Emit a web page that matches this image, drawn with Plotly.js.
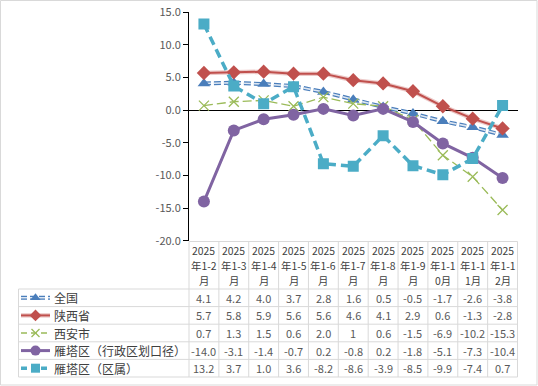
<!DOCTYPE html>
<html>
<head>
<meta charset="utf-8">
<script src="https://cdn.plot.ly/plotly-3.0.1.min.js"></script>
<style>html,body{margin:0;padding:0;background:#fff;}#chart{width:538px;height:386px;}</style>
</head>
<body>
<div id="chart"></div>
<script>
// ---- data ----
const categories = ["2025年1-2月","2025年1-3月","2025年1-4月","2025年1-5月","2025年1-6月","2025年1-7月","2025年1-8月","2025年1-9月","2025年1-10月","2025年1-11月","2025年1-12月"];
const seriesNames = ["全国","陕西省","西安市","雁塔区（行政区划口径）","雁塔区（区属）"];
const quanguo = ["4.1","4.2","4.0","3.7","2.8","1.6","0.5","-0.5","-1.7","-2.6","-3.8"];
const shaanxi = ["5.7","5.8","5.9","5.6","5.6","4.6","4.1","2.9","0.6","-1.3","-2.8"];
const xian = ["0.7","1.3","1.5","0.6","2.0","1","0.6","-1.5","-6.9","-10.2","-15.3"];
const yantaXz = ["-14.0","-3.1","-1.4","-0.7","0.2","-0.8","0.2","-1.8","-5.1","-7.3","-10.4"];
const yantaQs = ["13.2","3.7","1.0","3.6","-8.2","-8.6","-3.9","-8.5","-9.9","-7.4","0.7"];
const yTicks = [-20,-15,-10,-5,0,5,10,15];

// ---- layout geometry (pixels) ----
const W = 538, H = 386;
const plotL = 189, plotR = 517.5, plotT = 12.3, plotB = 240.7;
const colW = (plotR - plotL) / categories.length;
const headTop = 241.5, headBot = 289, rowH = 17.6, tableL = 18.5;
const headLineY = [250, 265.2, 280.4];
const FONT = "Noto Sans CJK SC, sans-serif";

const allSeries = [quanguo, shaanxi, xian, yantaXz, yantaQs];

// style layers per series
function layers(i) {
  switch (i) {
    case 0: return {
      lines: [{color:'#4A7EBB', width:4, dash:'7px,3px'}, {color:'#DCE6F2', width:1.6, dash:'7px,3px'}],
      marker: {symbol:'triangle-up', size:11, color:'#4A7EBB', line:{width:0}}
    };
    case 1: return {
      lines: [{color:'rgba(192,80,77,0.3)', width:4.5}, {color:'#C0504D', width:2}],
      marker: {symbol:'diamond', size:11, color:'#C0504D', line:{width:0}}
    };
    case 2: return {
      lines: [{color:'#9BBB59', width:1.3, dash:'9px,4px'}],
      marker: {symbol:'x-thin', size:10, color:'#9BBB59', line:{width:1.3, color:'#9BBB59'}}
    };
    case 3: return {
      lines: [{color:'#8064A2', width:3}],
      marker: {symbol:'circle', size:12, color:'#8064A2', line:{width:0}}
    };
    case 4: return {
      lines: [{color:'#4BACC6', width:3.5, dash:'9px,5px'}],
      marker: {symbol:'square', size:11, color:'#4BACC6', line:{width:0}}
    };
  }
}

const traces = [];
allSeries.forEach((s, i) => {
  const st = layers(i);
  const y = s.map(Number);
  st.lines.forEach(ln => {
    traces.push({x: categories, y: y, type:'scatter', mode:'lines', line: ln, hoverinfo:'skip', showlegend:false, xaxis:'x', yaxis:'y'});
  });
  traces.push({x: categories, y: y, type:'scatter', mode:'markers', marker: st.marker, name: seriesNames[i], showlegend:false, xaxis:'x', yaxis:'y'});
});

// legend keys in table (pixel overlay axes)
seriesNames.forEach((n, i) => {
  const st = layers(i);
  const yc = headBot + rowH * (i + 0.5);
  st.lines.forEach(ln => {
    traces.push({x:[21, 50], y:[yc, yc], type:'scatter', mode:'lines', line: Object.assign({}, ln, {dash: ln.dash ? (i===0 ? '6px,3px' : '6px,4px') : undefined}), hoverinfo:'skip', showlegend:false, xaxis:'x2', yaxis:'y2'});
  });
  const mk = Object.assign({}, st.marker, {size: st.marker.size - 2});
  traces.push({x:[35.5], y:[yc], type:'scatter', mode:'markers', marker: mk, hoverinfo:'skip', showlegend:false, xaxis:'x2', yaxis:'y2'});
});

// table shapes
const gridColor = '#D9D9D9';
const shapes = [];
shapes.push({type:'rect', xref:'x2', yref:'y2', x0:0.5, x1:537, y0:0.5, y1:385, line:{color:'#D9D9D9', width:1}, layer:'below'});
shapes.push({type:'line', xref:'x2', yref:'y2', x0:plotL, x1:plotR, y0:headTop, y1:headTop, line:{color:gridColor, width:1}});
for (let r = 0; r <= seriesNames.length; r++) {
  const y = headBot + r * rowH;
  shapes.push({type:'line', xref:'x2', yref:'y2', x0:tableL, x1:plotR, y0:y, y1:y, line:{color:gridColor, width:1}});
}
const tableB = headBot + rowH * seriesNames.length;
shapes.push({type:'line', xref:'x2', yref:'y2', x0:tableL, x1:tableL, y0:headBot, y1:tableB, line:{color:gridColor, width:1}});
for (let c = 0; c <= categories.length; c++) {
  const x = plotL + c * colW;
  shapes.push({type:'line', xref:'x2', yref:'y2', x0:x, x1:x, y0:headTop, y1:tableB, line:{color:gridColor, width:1}});
}

// table annotations
const annotations = [];
function chunks4(s) { const a = []; for (let k = 0; k < s.length; k += 4) a.push(s.slice(k, k + 4)); return a; }
categories.forEach((c, j) => {
  chunks4(c).forEach((part, k) => {
    annotations.push({xref:'x2', yref:'y2', x: plotL + colW * (j + 0.5), y: headLineY[k], text: part, showarrow:false, xanchor:'center', yanchor:'middle', borderpad:0, font:{family:FONT, size:10.4, color:'#404040'}});
  });
});
allSeries.forEach((s, i) => {
  const yc = headBot + rowH * (i + 0.5);
  annotations.push({xref:'x2', yref:'y2', x: 53, y: yc, text: seriesNames[i], showarrow:false, xanchor:'left', yanchor:'middle', borderpad:0, font:{family:FONT, size:12, color:'#404040'}});
  s.forEach((v, j) => {
    annotations.push({xref:'x2', yref:'y2', x: plotL + colW * (j + 0.5), y: yc, text: v, showarrow:false, xanchor:'center', yanchor:'middle', borderpad:0, font:{family:FONT, size:11, color:'#595959'}});
  });
});

const layout = {
  width: W, height: H,
  margin: {l:0, r:0, t:0, b:0, pad:0},
  paper_bgcolor: '#FFFFFF', plot_bgcolor: 'rgba(0,0,0,0)',
  showlegend: false,
  font: {family: FONT},
  xaxis: {domain:[plotL / W, plotR / W], range:[-0.5, categories.length - 0.5], type:'category', visible:false, fixedrange:true},
  yaxis: {domain:[(H - plotB) / H, (H - plotT) / H], range:[-20, 15], tickvals: yTicks, ticktext: yTicks.map(v => v.toFixed(1)),
          ticks:'outside', ticklen:5, tickcolor:'#000', tickwidth:1, showline:true, linecolor:'#000', linewidth:1,
          showgrid:false, zeroline:true, zerolinecolor:'#000', zerolinewidth:1.3,
          tickfont:{family:FONT, size:11, color:'#595959'}, fixedrange:true},
  xaxis2: {domain:[0, 1], range:[0, W], visible:false, anchor:'y2', fixedrange:true},
  yaxis2: {domain:[0, 1], range:[H, 0], visible:false, anchor:'x2', fixedrange:true},
  shapes: shapes,
  annotations: annotations
};

Plotly.newPlot('chart', traces, layout, {displayModeBar:false, staticPlot:true});
</script>
</body>
</html>
